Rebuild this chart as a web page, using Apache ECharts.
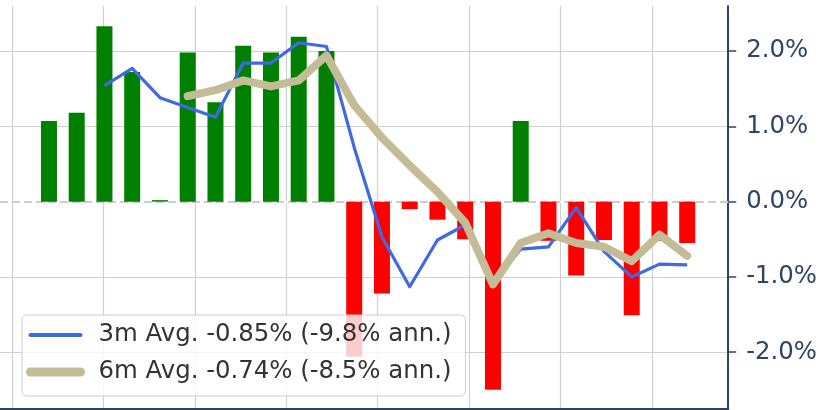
<!DOCTYPE html>
<html>
<head>
<meta charset="utf-8">
<script src="https://cdn.jsdelivr.net/npm/echarts@6/dist/echarts.min.js"></script>
<style>
  html, body { margin: 0; padding: 0; background: #fff; }
  #chart { width: 820px; height: 410px; }
</style>
</head>
<body>
<div id="chart"></div>
<script>
// monthly returns (%), one bar per month
const barValues = [1.07, 1.18, 2.33, 1.72, 0.02, 1.98, 1.32, 2.07, 1.98, 2.19, 2.00, -2.06,
  -1.22, -0.10, -0.24, -0.50, -2.50, 1.07, -0.52, -0.98, -0.51, -1.51, -0.52, -0.55];
// rolling averages (%)
const avg3m = [null, null, 1.54, 1.77, 1.38, 1.25, 1.12, 1.84, 1.84, 2.11, 2.06, 0.72,
  -0.47, -1.13, -0.51, -0.31, -1.09, -0.63, -0.60, -0.08, -0.66, -1.00, -0.83, -0.84];
const avg6m = [null, null, null, null, null, 1.40, 1.48, 1.61, 1.53, 1.61, 1.94, 1.28,
  0.85, 0.48, 0.13, -0.28, -1.10, -0.55, -0.42, -0.55, -0.60, -0.79, -0.44, -0.72];
const yTicks = [-2, -1, 0, 1, 2];
// vertical grid lines, in month-index units
const xGridTicks = [-1.332, 1.962, 5.256, 8.550, 11.843, 15.137, 18.431, 21.725];
const name3m = '3m Avg. -0.85% (-9.8% ann.)';
const name6m = '6m Avg. -0.74% (-8.5% ann.)';

const toPairs = arr => arr.map((v, i) => [i, v]).filter(d => d[1] !== null);
const navy = '#2d4466';
const gridColor = '#d0d0d0';

let myChart = echarts.init(document.getElementById('chart'));
let option = {
  animation: false,
  grid: { left: 0, right: 91, top: 6, bottom: 1 },
  xAxis: {
    type: 'value', min: -1.764, max: 24.478,
    axisLine: { show: true, onZero: false, lineStyle: { color: navy, width: 2 } },
    axisTick: { show: false, customValues: xGridTicks },
    axisLabel: { show: false, customValues: xGridTicks },
    splitLine: { show: true, lineStyle: { color: gridColor, width: 1.2 } }
  },
  yAxis: {
    type: 'value', position: 'right', min: -2.754, max: 2.598,
    axisLine: { show: true, onZero: false, lineStyle: { color: navy, width: 2 } },
    axisTick: { show: true, length: 8, customValues: yTicks, lineStyle: { color: navy, width: 1.5 } },
    axisLabel: {
      customValues: yTicks, margin: 18, color: navy, fontSize: 24.4, fontFamily: 'DejaVu Sans',
      formatter: v => v.toFixed(1) + '%'
    },
    splitLine: { show: true, lineStyle: { color: gridColor, width: 1.2 } }
  },
  legend: {
    left: 22, top: 315, orient: 'vertical',
    padding: [8, 14, 12, 4],
    itemWidth: 50, itemHeight: 12, itemGap: 13,
    backgroundColor: 'rgba(255,255,255,0.8)',
    borderColor: '#cccccc', borderWidth: 1, borderRadius: 5,
    textStyle: { color: '#333', fontSize: 24.4, fontFamily: 'DejaVu Sans', padding: [0, 0, 0, 13] },
    data: [
      { name: name3m, itemStyle: { opacity: 0 }, lineStyle: { width: 4, cap: 'round' } },
      { name: name6m, itemStyle: { opacity: 0 }, lineStyle: { width: 9, cap: 'round' } }
    ]
  },
  series: [
    {
      type: 'bar', name: 'monthly', barWidth: 16,
      data: toPairs(barValues),
      itemStyle: { color: p => (p.value[1] >= 0 ? '#008000' : '#ff0000') },
      markLine: {
        silent: true, symbol: 'none', z: 1, label: { show: false },
        data: [
          { yAxis: 0, lineStyle: { color: '#ffffff', type: 'solid', width: 2 } },
          { yAxis: 0, lineStyle: { color: '#bdbdbd', type: [8, 4], width: 1.5 } }
        ]
      }
    },
    {
      type: 'line', name: name3m, symbol: 'none', z: 3,
      data: toPairs(avg3m),
      lineStyle: { color: '#4169e1', width: 3.2, join: 'round' },
      itemStyle: { color: '#4169e1' }
    },
    {
      type: 'line', name: name6m, symbol: 'none', z: 4,
      data: toPairs(avg6m),
      lineStyle: { color: '#c4bc97', width: 8, join: 'round', cap: 'round' },
      itemStyle: { color: '#c4bc97' }
    }
  ]
};
myChart.setOption(option);
window.addEventListener('resize', () => myChart.resize(), false);
</script>
</body>
</html>
